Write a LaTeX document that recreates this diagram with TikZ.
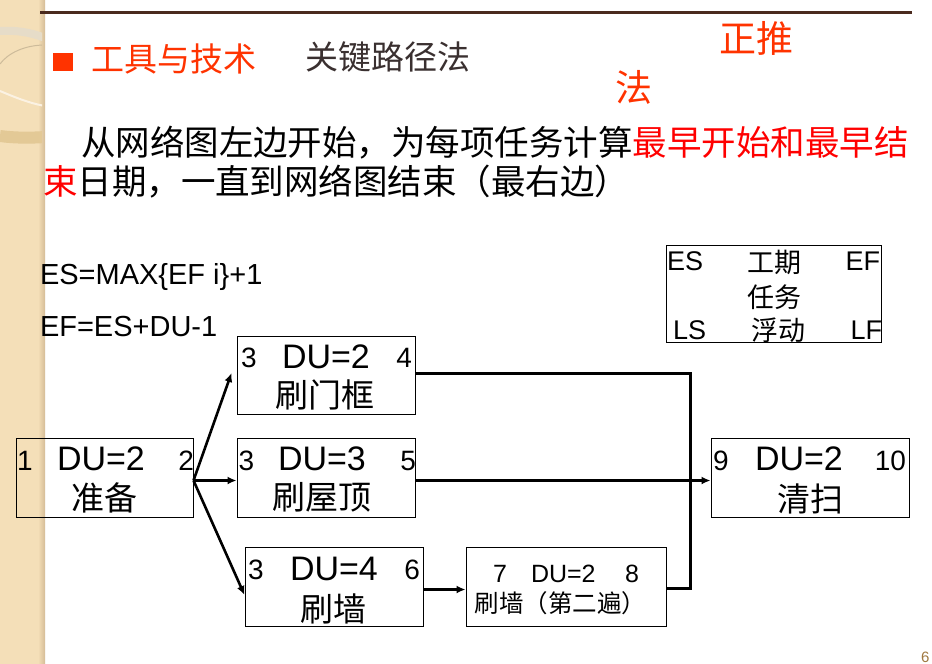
\documentclass[tikz,border=0pt]{standalone}
\usepackage{fontspec}
\setmainfont{Liberation Sans}
\newfontfamily\cjk{Noto Sans CJK SC}
\usetikzlibrary{arrows.meta,calc}
\definecolor{titlered}{HTML}{FF3300}
\definecolor{darkbrown}{HTML}{4A2A1E}
\definecolor{strip}{HTML}{F4DFB8}
\definecolor{stripedge}{HTML}{D5BC96}
\definecolor{subgray}{HTML}{3A3030}
\definecolor{ringgray}{HTML}{E6DCC8}
\definecolor{ringtan}{HTML}{E3C996}
\definecolor{ringline}{HTML}{CDBB9A}
\definecolor{pagenum}{HTML}{A07840}
\newcommand{\fsz}[1]{\fontsize{#1}{#1}\selectfont}
\tikzset{
  box/.style={draw, line width=1pt, rectangle, inner sep=0pt},
  txt/.style={inner sep=0pt, outer sep=0pt},
  conn/.style={line width=2.6pt, -{Latex[length=9pt,width=8pt]}},
  plainline/.style={line width=3pt},
  num/.style={txt, font=\fsz{28}},
  du/.style={txt, font=\fsz{34}},
  lab/.style={txt, font=\cjk\fsz{33}},
}
\begin{document}
\begin{tikzpicture}[x=1pt,y=-1pt]
\useasboundingbox (0,0) rectangle (932,664);
\fill[white] (0,0) rectangle (932,664);
% left decorative strip
\fill[strip] (0,0) rectangle (41,664);
\shade[left color=strip, right color=stripedge] (38,0) rectangle (45,664);
\begin{scope}
  \clip (0,0) rectangle (42,664);
  \draw[line width=8pt, ringgray] (0,31) .. controls (15,30) and (30,32) .. (45,38);
  \draw[line width=1pt, ringline] (45,45) .. controls (25,45) and (8,53) .. (0,64);
  \draw[line width=2pt, white!60!strip] (0,91) .. controls (12,96) and (28,103) .. (45,106);
  \draw[line width=12pt, ringtan] (0,136) .. controls (15,138) and (30,138) .. (45,137);
\end{scope}
% top rule
\draw[line width=3pt, darkbrown] (40,12.5) -- (912,12.5);
% title
\fill[titlered] (53,53) rectangle (73,71);
\node[txt, font=\cjk\fsz{33}, text=titlered] (t1) at (174,59) {工具与技术};
\node[txt, font=\cjk\fsz{33}, text=subgray] (t2) at (387.5,57) {关键路径法};
\node[txt, font=\cjk\fsz{37}, text=titlered] (t3) at (756.5,38.5) {正推};
\node[txt, font=\cjk\fsz{37}, text=titlered] (t4) at (633.5,87) {法};
% paragraph
\node[txt, anchor=base west, font=\cjk\fsz{34.5}] (p1) at (81,155)
  {从网络图左边开始，为每项任务计算\textcolor{red}{最早开始和最早结}};
\node[txt, anchor=base west, font=\cjk\fsz{34.5}] (p2) at (43,194)
  {\textcolor{red}{束}日期，一直到网络图结束（最右边）};
% formulas
\node[txt, font=\fsz{29}, anchor=base west] (f1) at (40,284) {ES=MAX\{EF i\}+1};
\node[txt, font=\fsz{29}, anchor=base west] (f2) at (40,336) {EF=ES+DU-1};
% legend
\node[box, minimum width=215pt, minimum height=97pt] (leg) at (773.5,293.5) {};
\node[txt, anchor=base west, font=\fsz{27}] (leg-es) at (667,270) {ES};
\node[txt, font=\cjk\fsz{27}] (leg-du) at (774,262) {工期};
\node[txt, anchor=base east, font=\fsz{27}] (leg-ef) at (880,270) {EF};
\node[txt, font=\cjk\fsz{27}] (leg-task) at (774,297) {任务};
\node[txt, anchor=base west, font=\fsz{27}] (leg-ls) at (673,339) {LS};
\node[txt, font=\cjk\fsz{27}] (leg-fl) at (778,330) {浮动};
\node[txt, anchor=base east, font=\fsz{27}] (leg-lf) at (882,339) {LF};
% task boxes
\node[box, minimum width=177pt, minimum height=79pt] (prep) at (104.5,477.5) {};
\node[box, minimum width=178pt, minimum height=78pt] (door) at (326,375) {};
\node[box, minimum width=178pt, minimum height=79pt] (roof) at (326,477.5) {};
\node[box, minimum width=178pt, minimum height=79pt] (wall) at (334,586.5) {};
\node[box, minimum width=200pt, minimum height=79pt] (wall2) at (566,586.5) {};
\node[box, minimum width=198pt, minimum height=79pt] (clean) at (810,477.5) {};
% prep texts
\node[num, anchor=base west] (prep-es) at (17,470) {1};
\node[du, anchor=base west] (prep-du) at (57,470) {DU=2};
\node[num, anchor=base east] (prep-ef) at (194,470) {2};
\node[lab] (prep-n) at (104.5,497.5) {准备};
% door texts
\node[num, anchor=base west] (door-es) at (241,367) {3};
\node[du, anchor=base west] (door-du) at (282,368) {DU=2};
\node[num, anchor=base east] (door-ef) at (412,367) {4};
\node[lab] (door-n) at (325,395) {刷门框};
% roof texts
\node[num, anchor=base west] (roof-es) at (238.5,470) {3};
\node[du, anchor=base west] (roof-du) at (278,470) {DU=3};
\node[num, anchor=base east] (roof-ef) at (416,470) {5};
\node[lab] (roof-n) at (322,497) {刷屋顶};
% wall texts
\node[num, anchor=base west] (wall-es) at (248,579) {3};
\node[du, anchor=base west] (wall-du) at (290,580) {DU=4};
\node[num, anchor=base east] (wall-ef) at (420,579) {6};
\node[lab] (wall-n) at (333.5,609) {刷墙};
% wall2 texts
\node[txt, anchor=base west, font=\fsz{25}] (wall2-es) at (493,582) {7};
\node[txt, anchor=base west, font=\fsz{25}] (wall2-du) at (531,582) {DU=2};
\node[txt, anchor=base east, font=\fsz{25}] (wall2-ef) at (639,582) {8};
\node[txt, font=\cjk\fsz{24.5}] (wall2-n) at (560.5,603) {刷墙（第二遍）};
% clean texts
\node[num, anchor=base west] (clean-es) at (713,470) {9};
\node[du, anchor=base west] (clean-du) at (755,470) {DU=2};
\node[num, anchor=base east] (clean-ef) at (906,470) {10};
\node[lab] (clean-n) at (810,499) {清扫};
% connectors
\draw[conn] ([yshift=-3pt]prep.east) -- ($(door.west)+(-5,-2)$);
\draw[conn] ([yshift=-3pt]prep.east) -- ([yshift=-3pt]roof.west);
\draw[conn] ([yshift=-3pt]prep.east) -- ($(wall.west)+(0,8.5)$);
\draw[conn] ([yshift=-3pt]roof.east) -- ([yshift=-3pt]clean.west);
\draw[conn] ([yshift=-3pt]wall.east) -- ([yshift=-3pt]wall2.west);
\draw[plainline] ([yshift=2pt]door.east) -| ($([yshift=-2pt]wall2.east)+(24,0)$) -- ([yshift=-2pt]wall2.east);
% page number
\node[txt, anchor=base west, font=\fsz{15}, text=pagenum] (pg) at (921,662) {6};
\end{tikzpicture}
\end{document}
